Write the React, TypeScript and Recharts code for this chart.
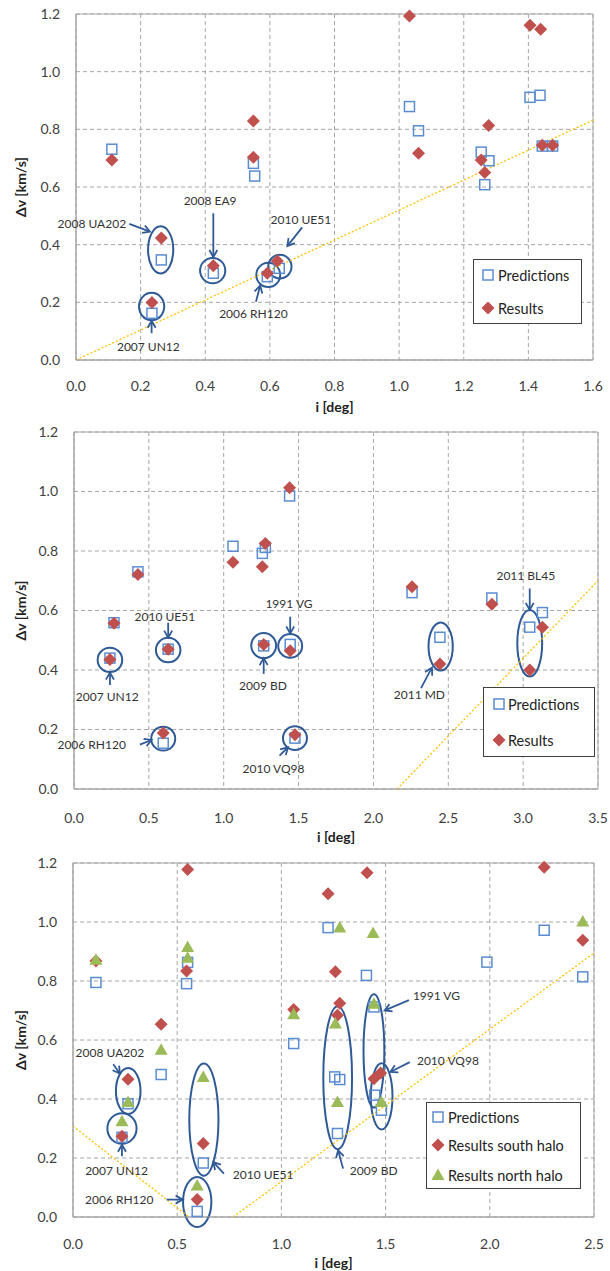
import React from 'react';
import {
  ScatterChart, Scatter, XAxis, YAxis, CartesianGrid, ReferenceLine,
  ReferenceArea, ReferenceDot, Legend,
} from 'recharts';

const FONT = 'Lato, "Open Sans", sans-serif';
const BLUE = '#5A8CD2';
const RED = '#C0504D';
const GREEN = '#9BBB59';
const NAVY = '#2F5A96';
const YELLOW = '#FFC000';
const GRID = '#A6A6A6';
const TEXT = '#404040';

// ---------- Panel 1 data ----------
const p1PredI = [0.111, 0.549, 0.553, 0.264, 0.425, 0.235, 0.592, 0.629, 1.032, 1.06, 1.254, 1.278, 1.265, 1.405, 1.436, 1.443, 1.475];
const p1PredDv = [0.731, 0.682, 0.638, 0.347, 0.301, 0.162, 0.289, 0.318, 0.879, 0.795, 0.721, 0.691, 0.608, 0.911, 0.918, 0.742, 0.742];
const p1ResI = [0.111, 0.549, 0.549, 0.264, 0.425, 0.235, 0.592, 0.623, 1.032, 1.06, 1.254, 1.277, 1.265, 1.405, 1.438, 1.443, 1.475];
const p1ResDv = [0.694, 0.829, 0.703, 0.423, 0.327, 0.199, 0.301, 0.343, 1.193, 0.717, 0.694, 0.813, 0.65, 1.161, 1.147, 0.745, 0.745];
const p1Ticks = [0, 0.2, 0.4, 0.6, 0.8, 1.0, 1.2, 1.4, 1.6];

// ---------- Panel 2 data ----------
const p2I = [0.24, 0.267, 0.427, 0.596, 0.629, 1.062, 1.258, 1.278, 1.267, 1.44, 1.444, 1.476, 2.258, 2.444, 2.791, 3.044, 3.129];
const p2PredDv = [0.44, 0.559, 0.73, 0.154, 0.47, 0.816, 0.792, 0.812, 0.481, 0.985, 0.486, 0.171, 0.66, 0.51, 0.642, 0.544, 0.593];
const p2ResDv = [0.435, 0.557, 0.721, 0.188, 0.47, 0.762, 0.747, 0.825, 0.486, 1.013, 0.465, 0.182, 0.68, 0.42, 0.621, 0.4, 0.544];
const p2Ticks = [0, 0.5, 1.0, 1.5, 2.0, 2.5, 3.0, 3.5];

// ---------- Panel 3 data ----------
const p3PredI = [0.11, 0.235, 0.264, 0.423, 0.545, 0.55, 0.596, 0.625, 1.059, 1.224, 1.256, 1.269, 1.28, 1.408, 1.444, 1.448, 1.48, 1.986, 2.261, 2.446];
const p3PredDv = [0.795, 0.27, 0.384, 0.483, 0.791, 0.863, 0.019, 0.183, 0.588, 0.981, 0.475, 0.283, 0.466, 0.819, 0.712, 0.413, 0.362, 0.864, 0.972, 0.814];
const p3SouthI = [0.11, 0.235, 0.264, 0.423, 0.545, 0.55, 0.596, 0.625, 1.059, 1.224, 1.259, 1.269, 1.28, 1.411, 1.444, 1.476, 2.261, 2.446];
const p3SouthDv = [0.868, 0.274, 0.467, 0.653, 0.834, 1.178, 0.059, 0.249, 0.703, 1.096, 0.831, 0.684, 0.725, 1.167, 0.469, 0.488, 1.186, 0.938];
const p3NorthI = [0.11, 0.235, 0.264, 0.423, 0.55, 0.55, 0.596, 0.625, 1.059, 1.259, 1.269, 1.28, 1.44, 1.444, 1.48, 2.446];
const p3NorthDv = [0.872, 0.325, 0.39, 0.567, 0.915, 0.879, 0.107, 0.475, 0.687, 0.656, 0.39, 0.981, 0.963, 0.723, 0.39, 1.002];
const p3Ticks = [0, 0.5, 1.0, 1.5, 2.0, 2.5];

const yTicks = [0, 0.2, 0.4, 0.6, 0.8, 1.0, 1.2];

// ---------- Annotations (data coordinates) ----------
const p1Ellipses = [
  { x1: 0.223, x2: 0.301, y1: 0.3, y2: 0.464 },
  { x1: 0.384, x2: 0.462, y1: 0.266, y2: 0.354 },
  { x1: 0.195, x2: 0.273, y1: 0.138, y2: 0.233 },
  { x1: 0.558, x2: 0.632, y1: 0.253, y2: 0.337 },
  { x1: 0.595, x2: 0.667, y1: 0.283, y2: 0.365 },
];
const p1Labels = [
  { text: '2008 UA202', x: 0.049, y: 0.472 },
  { text: '2008 EA9', x: 0.415, y: 0.553 },
  { text: '2007 UN12', x: 0.224, y: 0.046 },
  { text: '2006 RH120', x: 0.549, y: 0.162 },
  { text: '2010 UE51', x: 0.696, y: 0.486 },
];
const p1Arrows = [
  { from: [0.165, 0.472], to: [0.229, 0.445] },
  { from: [0.425, 0.509], to: [0.425, 0.357] },
  { from: [0.234, 0.093], to: [0.234, 0.136] },
  { from: [0.557, 0.202], to: [0.57, 0.258] },
  { from: [0.7, 0.46], to: [0.654, 0.395] },
];
const p1Trend = [[0, 0], [1.6, 0.832]];

const p2Ellipses = [
  { x1: 0.158, x2: 0.322, y1: 0.393, y2: 0.475 },
  { x1: 0.547, x2: 0.711, y1: 0.426, y2: 0.508 },
  { x1: 0.516, x2: 0.676, y1: 0.129, y2: 0.209 },
  { x1: 1.184, x2: 1.35, y1: 0.44, y2: 0.524 },
  { x1: 1.364, x2: 1.524, y1: 0.441, y2: 0.521 },
  { x1: 1.396, x2: 1.556, y1: 0.131, y2: 0.211 },
  { x1: 2.368, x2: 2.53, y1: 0.398, y2: 0.56 },
  { x1: 2.961, x2: 3.127, y1: 0.378, y2: 0.602 },
];
const p2Labels = [
  { text: '2010 UE51', x: 0.607, y: 0.579 },
  { text: '2007 UN12', x: 0.222, y: 0.311 },
  { text: '2006 RH120', x: 0.118, y: 0.149 },
  { text: '1991 VG', x: 1.436, y: 0.624 },
  { text: '2009 BD', x: 1.262, y: 0.347 },
  { text: '2010 VQ98', x: 1.333, y: 0.07 },
  { text: '2011 MD', x: 2.307, y: 0.316 },
  { text: '2011 BL45', x: 3.018, y: 0.717 },
];
const p2Arrows = [
  { from: [0.629, 0.559], to: [0.629, 0.509] },
  { from: [0.24, 0.35], to: [0.24, 0.391] },
  { from: [0.44, 0.149], to: [0.518, 0.165] },
  { from: [1.444, 0.579], to: [1.444, 0.523] },
  { from: [1.267, 0.387], to: [1.267, 0.44] },
  { from: [1.373, 0.112], to: [1.429, 0.14] },
  { from: [2.318, 0.339], to: [2.391, 0.408] },
  { from: [3.044, 0.674], to: [3.044, 0.602] },
];
const p2Trend = [[2.158, 0], [3.5, 0.7]];

const p3Ellipses = [
  { x1: 0.206, x2: 0.324, y1: 0.349, y2: 0.505 },
  { x1: 0.165, x2: 0.305, y1: 0.248, y2: 0.352 },
  { x1: 0.558, x2: 0.698, y1: 0.14, y2: 0.52 },
  { x1: 0.528, x2: 0.664, y1: -0.034, y2: 0.136 },
  { x1: 1.201, x2: 1.339, y1: 0.23, y2: 0.714 },
  { x1: 1.394, x2: 1.494, y1: 0.371, y2: 0.755 },
  { x1: 1.429, x2: 1.533, y1: 0.297, y2: 0.521 },
];
const p3Labels = [
  { text: '2008 UA202', x: 0.177, y: 0.559 },
  { text: '2007 UN12', x: 0.209, y: 0.158 },
  { text: '2006 RH120', x: 0.222, y: 0.059 },
  { text: '2010 UE51', x: 0.912, y: 0.145 },
  { text: '1991 VG', x: 1.744, y: 0.752 },
  { text: '2010 VQ98', x: 1.799, y: 0.529 },
  { text: '2009 BD', x: 1.443, y: 0.158 },
];
const p3Arrows = [
  { from: [0.193, 0.518], to: [0.225, 0.486] },
  { from: [0.235, 0.206], to: [0.235, 0.245] },
  { from: [0.449, 0.059], to: [0.526, 0.059] },
  { from: [0.724, 0.147], to: [0.673, 0.186] },
  { from: [1.612, 0.735], to: [1.495, 0.7] },
  { from: [1.616, 0.525], to: [1.523, 0.492] },
  { from: [1.296, 0.164], to: [1.272, 0.226] },
];
const p3TrendA = [[0, 0.308], [0.556, 0]];
const p3TrendB = [[0.768, 0], [2.5, 0.895]];

const zip = (xs: number[], ys: number[]) => xs.map((x, i) => ({ x, y: ys[i] }));

// ---------- shapes ----------
const SquareShape = (p: any) => (
  <rect x={p.cx - 5} y={p.cy - 5} width={10} height={10} fill="none" stroke={BLUE} strokeWidth={1.5} />
);
const DiamondShape = (p: any) => (
  <polygon points={`${p.cx},${p.cy - 6.5} ${p.cx + 6.5},${p.cy} ${p.cx},${p.cy + 6.5} ${p.cx - 6.5},${p.cy}`} fill={RED} />
);
const TriangleShape = (p: any) => (
  <polygon points={`${p.cx},${p.cy - 6.5} ${p.cx + 6.5},${p.cy + 5} ${p.cx - 6.5},${p.cy + 5}`} fill={GREEN} />
);

const markerFor = (kind: string, cx: number, cy: number) => {
  if (kind === 'square') return <SquareShape cx={cx} cy={cy} />;
  if (kind === 'diamond') return <DiamondShape cx={cx} cy={cy} />;
  return <TriangleShape cx={cx} cy={cy} />;
};

const ellipseShape = (p: any) => {
  const w = Math.abs(p.width);
  const h = Math.abs(p.height);
  const x = Math.min(p.x, p.x + p.width);
  const y = Math.min(p.y, p.y + p.height);
  return <ellipse cx={x + w / 2} cy={y + h / 2} rx={w / 2} ry={h / 2} fill="none" stroke={NAVY} strokeWidth={2} />;
};

const arrowShape = (p: any) => {
  const { x1, y1, x2, y2 } = p;
  const a = Math.atan2(y2 - y1, x2 - x1);
  const L = 7;
  const W = 4;
  const bx = x2 - L * Math.cos(a);
  const by = y2 - L * Math.sin(a);
  const lx = bx + W * Math.sin(a);
  const ly = by - W * Math.cos(a);
  const rx = bx - W * Math.sin(a);
  const ry = by + W * Math.cos(a);
  return (
    <g>
      <line x1={x1} y1={y1} x2={x2 - 1.5 * Math.cos(a)} y2={y2 - 1.5 * Math.sin(a)} stroke={NAVY} strokeWidth={1.8} />
      <polyline points={`${lx},${ly} ${x2},${y2} ${rx},${ry}`} fill="none" stroke={NAVY} strokeWidth={1.8} strokeLinejoin="miter" />
    </g>
  );
};

type SeriesCfg = { name: string; kind: string; data: { x: number; y: number }[] };
type PanelCfg = {
  top: number; height: number; mt: number; mr: number; yWidth: number; xHeight: number;
  xMax: number; xTicks: number[]; tickMargin: number; xLabelOffset: number;
  series: SeriesCfg[];
  ellipses: { x1: number; x2: number; y1: number; y2: number }[];
  labels: { text: string; x: number; y: number }[];
  arrows: { from: number[]; to: number[] }[];
  trends: number[][][];
  legend: { left: number; top: number; w: number; h: number; markX: number; textX: number; rows: number[] };
};

const Panel = ({ cfg }: { cfg: PanelCfg }) => {
  const legendContent = () => {
    const L = cfg.legend;
    return (
      <svg width={L.w} height={L.h} style={{ display: 'block' }}>
        <rect x={0.5} y={0.5} width={L.w - 1} height={L.h - 1} fill="#fff" stroke="#404040" strokeWidth={1} />
        {cfg.series.map((s, i) => (
          <g key={i}>
            {markerFor(s.kind, L.markX, L.rows[i])}
            <text x={L.textX} y={L.rows[i]} dominantBaseline="central" fontFamily={FONT} fontSize={14.5} fill="#222">
              {s.name}
            </text>
          </g>
        ))}
      </svg>
    );
  };

  const xLabel = (p: any) => {
    const vb = p.viewBox || { x: 0, y: 0, width: 0 };
    return (
      <text x={vb.x + vb.width / 2} y={vb.y + cfg.xLabelOffset} textAnchor="middle" dominantBaseline="central"
        fontFamily={FONT} fontSize={14} fontWeight="bold" fill="#222">i [deg]</text>
    );
  };
  const yLabel = (p: any) => {
    const vb = p.viewBox || { x: 0, y: 0, height: 0 };
    const cx = vb.x + 20;
    const cy = vb.y + vb.height / 2;
    return (
      <text x={cx} y={cy} transform={`rotate(-90, ${cx}, ${cy})`} textAnchor="middle" dominantBaseline="central"
        fontFamily={FONT} fontSize={14} fontWeight="bold" fill="#222">Δv [km/s]</text>
    );
  };

  const tickStyle = { fill: TEXT, fontSize: 14, fontFamily: FONT };

  return (
    <div style={{ position: 'absolute', left: 0, top: cfg.top }}>
      <ScatterChart width={610} height={cfg.height} margin={{ top: cfg.mt, right: cfg.mr, bottom: 0, left: 0 }}>
        <CartesianGrid stroke={GRID} strokeDasharray="4 3" />
        <XAxis type="number" dataKey="x" domain={[0, cfg.xMax]} ticks={cfg.xTicks} interval={0}
          tickFormatter={(v: number) => v.toFixed(1)} tickLine={false} tickSize={0} tickMargin={cfg.tickMargin}
          axisLine={{ stroke: GRID }} height={cfg.xHeight} tick={tickStyle} label={xLabel} />
        <YAxis type="number" dataKey="y" domain={[0, 1.2]} ticks={yTicks} interval={0}
          tickFormatter={(v: number) => v.toFixed(1)} tickLine={false} tickSize={0} tickMargin={16}
          axisLine={{ stroke: GRID }} width={cfg.yWidth} tick={tickStyle} label={yLabel} />
        <ReferenceArea x1={0} x2={cfg.xMax} y1={0} y2={1.2} fill="none" fillOpacity={0} stroke={GRID} strokeWidth={1} ifOverflow="visible" />
        {cfg.trends.map((t, i) => (
          <ReferenceLine key={`t${i}`} segment={[{ x: t[0][0], y: t[0][1] }, { x: t[1][0], y: t[1][1] }]}
            stroke={YELLOW} strokeWidth={1.3} strokeDasharray="2 2" ifOverflow="visible" />
        ))}
        {cfg.series.map((s) => (
          <Scatter key={s.name} name={s.name} data={s.data} shape={
            s.kind === 'square' ? SquareShape : s.kind === 'diamond' ? DiamondShape : TriangleShape
          } fill={s.kind === 'square' ? BLUE : s.kind === 'diamond' ? RED : GREEN} isAnimationActive={false} />
        ))}
        {cfg.ellipses.map((e, i) => (
          <ReferenceArea key={`e${i}`} x1={e.x1} x2={e.x2} y1={e.y1} y2={e.y2} ifOverflow="visible" shape={ellipseShape} />
        ))}
        {cfg.arrows.map((a, i) => (
          <ReferenceLine key={`a${i}`} segment={[{ x: a.from[0], y: a.from[1] }, { x: a.to[0], y: a.to[1] }]}
            ifOverflow="visible" shape={arrowShape} />
        ))}
        {cfg.labels.map((l, i) => (
          <ReferenceDot key={`l${i}`} x={l.x} y={l.y} r={0} ifOverflow="visible"
            shape={(p: any) => (
              <text x={p.cx} y={p.cy} textAnchor="middle" dominantBaseline="central" fontFamily={FONT} fontSize={12} fill="#333">
                {l.text}
              </text>
            )} />
        ))}
        <Legend layout="vertical" align="center" verticalAlign="middle"
          wrapperStyle={{ left: cfg.legend.left, top: cfg.legend.top, width: cfg.legend.w, height: cfg.legend.h }}
          content={legendContent} />
      </ScatterChart>
    </div>
  );
};

const panels: PanelCfg[] = [
  {
    top: 0, height: 420, mt: 14, mr: 17, yWidth: 76, xHeight: 60, xMax: 1.6, xTicks: p1Ticks,
    tickMargin: 21, xLabelOffset: 46,
    series: [
      { name: 'Predictions', kind: 'square', data: zip(p1PredI, p1PredDv) },
      { name: 'Results', kind: 'diamond', data: zip(p1ResI, p1ResDv) },
    ],
    ellipses: p1Ellipses, labels: p1Labels, arrows: p1Arrows, trends: [p1Trend],
    legend: { left: 473, top: 259, w: 109, h: 65, markX: 15, textX: 25, rows: [16, 49] },
  },
  {
    top: 420, height: 430, mt: 12, mr: 12, yWidth: 74, xHeight: 61, xMax: 3.5, xTicks: p2Ticks,
    tickMargin: 24, xLabelOffset: 47,
    series: [
      { name: 'Predictions', kind: 'square', data: zip(p2I, p2PredDv) },
      { name: 'Results', kind: 'diamond', data: zip(p2I, p2ResDv) },
    ],
    ellipses: p2Ellipses, labels: p2Labels, arrows: p2Arrows, trends: [p2Trend],
    legend: { left: 483, top: 267, w: 112, h: 70, markX: 16, textX: 25, rows: [17, 53] },
  },
  {
    top: 850, height: 421, mt: 13, mr: 16, yWidth: 73, xHeight: 54, xMax: 2.5, xTicks: p3Ticks,
    tickMargin: 22, xLabelOffset: 45,
    series: [
      { name: 'Predictions', kind: 'square', data: zip(p3PredI, p3PredDv) },
      { name: 'Results south halo', kind: 'diamond', data: zip(p3SouthI, p3SouthDv) },
      { name: 'Results north halo', kind: 'triangle', data: zip(p3NorthI, p3NorthDv) },
    ],
    ellipses: p3Ellipses, labels: p3Labels, arrows: p3Arrows, trends: [p3TrendA, p3TrendB],
    legend: { left: 426, top: 252, w: 155, h: 87, markX: 12, textX: 22, rows: [15, 43, 73] },
  },
];

export default function App() {
  return (
    <div style={{ position: 'absolute', left: 0, top: 0, width: 610, height: 1271, background: '#fff', fontFamily: FONT }}>
      {panels.map((cfg, i) => (
        <Panel key={i} cfg={cfg} />
      ))}
    </div>
  );
}
